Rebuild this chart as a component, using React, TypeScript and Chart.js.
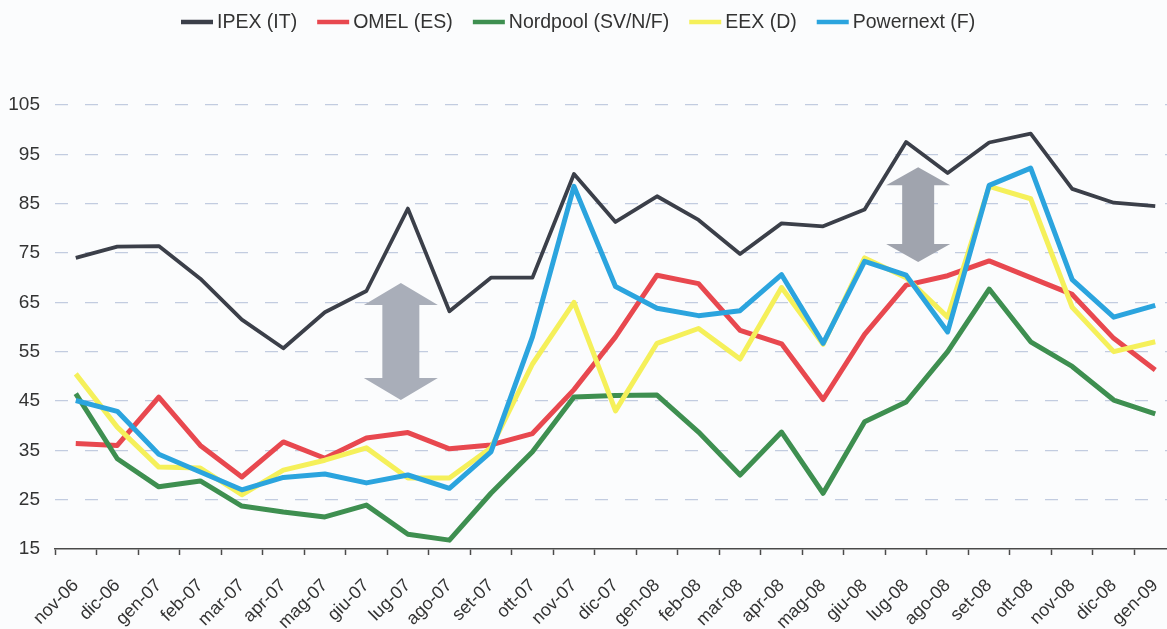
import { useEffect, useRef } from 'react';
import { Chart, registerables } from 'chart.js';

Chart.register(...registerables);

const categories = [
  'nov-06', 'dic-06', 'gen-07', 'feb-07', 'mar-07', 'apr-07', 'mag-07', 'giu-07', 'lug-07',
  'ago-07', 'set-07', 'ott-07', 'nov-07', 'dic-07', 'gen-08', 'feb-08', 'mar-08', 'apr-08',
  'mag-08', 'giu-08', 'lug-08', 'ago-08', 'set-08', 'ott-08', 'nov-08', 'dic-08', 'gen-09',
];

const seriesNames = ['IPEX (IT)', 'OMEL (ES)', 'Nordpool (SV/N/F)', 'EEX (D)', 'Powernext (F)'];

const ipex = [74, 76.3, 76.4, 69.8, 61.5, 55.7, 63, 67.3, 84, 63.2, 70, 70, 91, 81.3, 86.5, 81.7, 74.8, 81, 80.4, 83.8, 97.5, 91.2, 97.4, 99.2, 88, 85.2, 84.5];
const omel = [36.4, 36, 45.8, 36, 29.6, 36.7, 33.4, 37.5, 38.6, 35.3, 36.1, 38.4, 47.3, 58, 70.5, 68.8, 59.3, 56.6, 45.3, 58.5, 68.5, 70.4, 73.4, 70, 66.6, 57.7, 51.3];
const nordpool = [46.5, 33.3, 27.6, 28.8, 23.7, 22.5, 21.5, 23.9, 18, 16.8, 26.3, 34.7, 45.8, 46.1, 46.2, 38.7, 30, 38.7, 26.3, 40.8, 44.8, 55, 67.7, 57, 52, 45.2, 42.4];
const eex = [50.5, 39.7, 31.6, 31.4, 26, 31, 33, 35.5, 29.4, 29.4, 35.5, 52.5, 65, 43, 56.7, 59.7, 53.5, 68, 56.5, 74, 70, 62, 88.5, 86, 64, 55, 57];
const powernext = [45.1, 42.9, 34.2, 30.6, 27, 29.5, 30.2, 28.4, 30, 27.3, 34.7, 58, 88.5, 68.2, 63.8, 62.3, 63.3, 70.6, 56.7, 73.3, 70.5, 59, 88.7, 92.2, 69.6, 62, 64.4];

const seriesValues = [ipex, omel, nordpool, eex, powernext];
const seriesColors = ['#3b3f49', '#e8484f', '#3e8f50', '#f5f05a', '#2ba4de'];
const seriesWidths = [3.8, 5, 5, 5, 5];
const seriesOrder = [5, 4, 3, 2, 1];

const yTicks = [15, 25, 35, 45, 55, 65, 75, 85, 95, 105];

// annotation arrows (category index position, top value, bottom value)
const arrowIndex = [7.83, 20.29];
const arrowTop = [68.9, 92.4];
const arrowBottom = [45.2, 73.2];

const FONT = "'Liberation Sans', Arial, Helvetica, sans-serif";

const arrowPlugin = {
  id: 'arrows',
  afterDatasetsDraw(chart: any) {
    const { ctx, scales } = chart;
    const sizes = [
      { hw: 37, sw: 18.5, hh: 22, color: '#a9aeb9' },
      { hw: 32, sw: 16, hh: 18, color: '#a0a4ae' },
    ];
    arrowIndex.forEach((idx, i) => {
      const cx = scales.x.getPixelForValue(idx);
      const yt = scales.y.getPixelForValue(arrowTop[i]);
      const yb = scales.y.getPixelForValue(arrowBottom[i]);
      const { hw, sw, hh, color } = sizes[i];
      ctx.save();
      ctx.beginPath();
      ctx.moveTo(cx, yt);
      ctx.lineTo(cx + hw, yt + hh);
      ctx.lineTo(cx + sw, yt + hh);
      ctx.lineTo(cx + sw, yb - hh);
      ctx.lineTo(cx + hw, yb - hh);
      ctx.lineTo(cx, yb);
      ctx.lineTo(cx - hw, yb - hh);
      ctx.lineTo(cx - sw, yb - hh);
      ctx.lineTo(cx - sw, yt + hh);
      ctx.lineTo(cx - hw, yt + hh);
      ctx.closePath();
      ctx.fillStyle = color;
      ctx.fill();
      ctx.restore();
    });
  },
};

const legendPlugin = {
  id: 'customLegend',
  afterDraw(chart: any) {
    const { ctx } = chart;
    ctx.save();
    ctx.font = `19.5px ${FONT}`;
    ctx.textBaseline = 'middle';
    ctx.textAlign = 'left';
    let x = 181;
    const y = 23;
    chart.data.datasets.forEach((ds: any) => {
      ctx.beginPath();
      ctx.strokeStyle = ds.borderColor;
      ctx.lineWidth = 4.5;
      ctx.moveTo(x, y - 1);
      ctx.lineTo(x + 32, y - 1);
      ctx.stroke();
      x += 36;
      ctx.fillStyle = '#333';
      ctx.fillText(ds.label, x, y);
      x += ctx.measureText(ds.label).width + 20;
    });
    ctx.restore();
  },
};

export default function App() {
  const ref = useRef<HTMLCanvasElement>(null);

  useEffect(() => {
    if (!ref.current) return;
    const chart = new Chart(ref.current, {
      type: 'line',
      data: {
        labels: categories,
        datasets: seriesNames.map((name, i) => ({
          label: name,
          data: seriesValues[i],
          borderColor: seriesColors[i],
          backgroundColor: seriesColors[i],
          borderWidth: seriesWidths[i],
          pointRadius: 0,
          tension: 0,
          fill: false,
          order: seriesOrder[i],
          borderJoinStyle: 'round' as const,
        })),
      },
      options: {
        animation: false,
        responsive: false,
        devicePixelRatio: 1,
        layout: { padding: { top: 105, left: 0, right: 0, bottom: 0 } },
        plugins: {
          legend: { display: false },
          tooltip: { enabled: false },
        },
        scales: {
          x: {
            type: 'category',
            offset: true,
            grid: {
              display: true,
              drawOnChartArea: false,
              drawTicks: true,
              tickLength: 6,
              offset: true,
              tickColor: '#4a4a4a',
              tickWidth: 1.5,
            },
            border: { display: true, color: '#4a4a4a', width: 1.6 },
            ticks: {
              autoSkip: false,
              minRotation: 45,
              maxRotation: 45,
              padding: 20,
              color: '#333',
              font: { family: FONT, size: 18 },
            },
            afterFit: (s: any) => {
              s.height = 80;
              s.paddingLeft = 0;
              s.paddingRight = 0;
              s.paddingTop = 0;
              s.paddingBottom = 0;
            },
          },
          y: {
            type: 'linear',
            min: 15,
            max: 105,
            grid: {
              drawTicks: false,
              color: (c: any) => (c.tick && c.tick.value === 15 ? 'rgba(0,0,0,0)' : '#c2cce0'),
              lineWidth: 1.2,
            },
            border: { display: false, dash: [13, 17] },
            ticks: {
              padding: 15,
              color: '#333',
              font: { family: FONT, size: 19 },
            },
            afterBuildTicks: (s: any) => {
              s.ticks = yTicks.map((v) => ({ value: v }));
            },
            afterFit: (s: any) => {
              s.width = 55;
              s.paddingTop = 0;
              s.paddingBottom = 0;
            },
          },
        },
      },
      plugins: [arrowPlugin, legendPlugin],
    });
    return () => chart.destroy();
  }, []);

  return (
    <div
      style={{
        position: 'absolute',
        left: 0,
        top: 0,
        width: 1167,
        height: 629,
        overflow: 'hidden',
        background: '#fbfcfd',
      }}
    >
      <canvas ref={ref} width={1176} height={629} style={{ width: 1176, height: 629, display: 'block' }} />
    </div>
  );
}
